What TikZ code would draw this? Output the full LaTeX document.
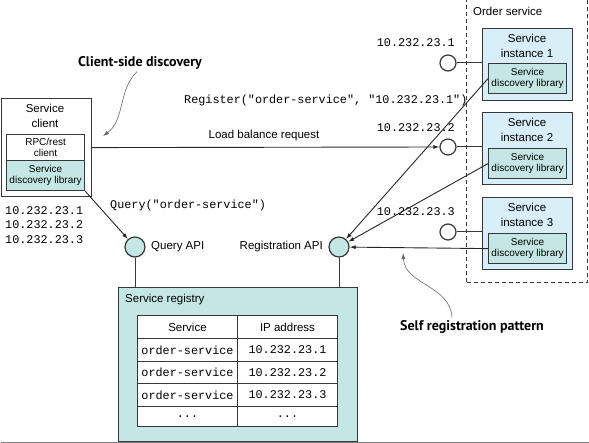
\documentclass[tikz,border=0pt]{standalone}
\usepackage{fontspec}
\setmainfont{Liberation Sans}
\setmonofont{Liberation Mono}
\newfontfamily\calloutfont{PT Sans}
\usetikzlibrary{arrows.meta}
\definecolor{teal0}{RGB}{196,230,228}
\definecolor{blue0}{RGB}{216,238,249}
\definecolor{edge}{RGB}{55,55,55}
\begin{document}
\begin{tikzpicture}[x=1pt,y=-1pt,
  box/.style={draw=edge, line width=1.2pt, inner sep=0pt, anchor=north west, align=center},
  lbl/.style={font=\fontsize{11.5}{14.5}\selectfont, align=center, inner sep=0pt},
  small/.style={font=\fontsize{10}{11.5}\selectfont},
  mono/.style={font=\ttfamily\fontsize{11.8}{14}\selectfont, inner sep=0pt},
  port/.style={circle, draw=edge, line width=1.2pt, fill=white, minimum size=16pt, inner sep=0pt},
  api/.style={circle, draw=edge, line width=1.2pt, fill=teal0, minimum size=20pt, inner sep=0pt},
  arr/.style={-{Latex[length=6pt,width=4pt]}, line width=0.9pt, draw=black!85},
  link/.style={line width=1pt, draw=edge},
  callout/.style={font=\calloutfont\bfseries\fontsize{14}{16}\selectfont, inner sep=0pt},
  curvy/.style={-{Latex[length=6pt,width=4pt]}, line width=0.6pt, draw=black!60},
  cell/.style={draw=edge, line width=1pt, fill=white, minimum width=100pt, anchor=north west, inner sep=0pt},
  head/.style={cell, font=\fontsize{11.5}{13}\selectfont},
  mcell/.style={cell, font=\ttfamily\fontsize{11.8}{13}\selectfont}
]
\useasboundingbox (0,0) rectangle (589,443);

% ---- order service group
\node[draw=edge, dashed, dash pattern=on 4pt off 3pt, line width=1pt, minimum width=121pt, minimum height=287pt, anchor=north west, inner sep=0pt] (order) at (466,-5) {};
\node[lbl, anchor=west] (orderlbl) at (473,11) {Order service};

% instances
\node[box, fill=blue0, minimum width=90pt, minimum height=72pt] (inst1) at (482,28) {};
\node[lbl] (inst1lbl) at (527,46) {Service\\instance 1};
\node[box, fill=teal0, minimum width=78pt, minimum height=30pt, small] (lib1) at (488,63) {Service\\discovery library};

\node[box, fill=blue0, minimum width=90pt, minimum height=72pt] (inst2) at (482,112) {};
\node[lbl] (inst2lbl) at (527,130) {Service\\instance 2};
\node[box, fill=teal0, minimum width=78pt, minimum height=30pt, small] (lib2) at (488,148) {Service\\discovery library};

\node[box, fill=blue0, minimum width=90pt, minimum height=72pt] (inst3) at (482,197) {};
\node[lbl] (inst3lbl) at (527,215) {Service\\instance 3};
\node[box, fill=teal0, minimum width=78pt, minimum height=30pt, small] (lib3) at (488,233) {Service\\discovery library};

% ports
\node[port] (port1) at (448,63) {};
\node[port] (port2) at (448,147) {};
\node[port] (port3) at (448,232) {};
\draw[link] (port1.east) -- (port1.east -| inst1.west);
\draw[link] (port2.east) -- (port2.east -| inst2.west);
\draw[link] (port3.east) -- (port3.east -| inst3.west);
\node[mono, anchor=east] (ip1) at (455,43) {10.232.23.1};
\node[mono, anchor=east] (ip2) at (455,128) {10.232.23.2};
\node[mono, anchor=east] (ip3) at (455,212) {10.232.23.3};

% ---- client
\node[box, fill=white, minimum width=90pt, minimum height=98pt] (client) at (0.7,98) {};
\node[lbl] (clientlbl) at (45,116) {Service\\client};
\node[box, fill=white, minimum width=78pt, minimum height=26pt, small] (rpc) at (6,134) {RPC/rest\\client};
\node[box, fill=teal0, minimum width=78pt, minimum height=30pt, small] (clib) at (6,160) {Service\\discovery library};

\node[mono, anchor=west] (cip1) at (5,211) {10.232.23.1};
\node[mono, anchor=west] (cip2) at (5,225) {10.232.23.2};
\node[mono, anchor=west] (cip3) at (5,240) {10.232.23.3};

% texts
\node[mono, anchor=west] (regtxt) at (184,100) {Register("order-service", "10.232.23.1")};
\node[lbl] (lbr) at (264,136) {Load balance request};
\node[mono, anchor=west] (qtxt) at (110,205) {Query("order-service")};

% ---- APIs
\node[api] (qapi) at (135,247) {};
\node[api] (rapi) at (339,247) {};
\node[lbl, anchor=west] (qapilbl) at (151,247) {Query API};
\node[lbl, anchor=east] (rapilbl) at (323,247) {Registration API};

% ---- registry
\node[box, fill=teal0, minimum width=239pt, minimum height=154pt] (reg) at (118,287) {};
\node[lbl, anchor=west] (reglbl) at (125,300) {Service registry};

\node[head, minimum height=23pt] (h1) at (137,315) {Service};
\node[head, minimum height=23pt] (h2) at (237,315) {IP address};
\node[mcell, minimum height=23pt] (r1a) at (137,338) {order-service};
\node[mcell, minimum height=23pt] (r1b) at (237,338) {10.232.23.1};
\node[mcell, minimum height=22pt] (r2a) at (137,361) {order-service};
\node[mcell, minimum height=22pt] (r2b) at (237,361) {10.232.23.2};
\node[mcell, minimum height=23pt] (r3a) at (137,383) {order-service};
\node[mcell, minimum height=23pt] (r3b) at (237,383) {10.232.23.3};
\node[mcell, minimum height=20pt] (r4a) at (137,406) {...};
\node[mcell, minimum height=20pt] (r4b) at (237,406) {...};

\draw[link] (qapi.south) -- (qapi.south |- reg.north);
\draw[link] (rapi.south) -- (rapi.south |- reg.north);

% ---- connectors
\draw[arr] (client.east) -- (port2.west);
\draw[arr] (clib.south east) -- (qapi);
\draw[arr] (lib1.west) -- (rapi);
\draw[arr] (lib2.west) -- (rapi);
\draw[arr] (lib3.west) -- (rapi);

% ---- callouts
\node[callout] (csd) at (140,63) {Client-side discovery};
\node[callout] (srp) at (472,327) {Self registration pattern};
\coordinate (csdtip) at (103,136);
\coordinate (srptip) at (403,253);
\draw[curvy] ([xshift=-3pt,yshift=-2pt]csd.south) .. controls (118,90) and (125,120) .. (csdtip);
\draw[curvy] ([xshift=-20pt,yshift=3pt]srp.north) .. controls (450,285) and (405,285) .. (srptip);

% bottom rule
\draw[gray, line width=1.5pt] (reg.south west -| order.east) ++(2,0.5) -- ++(-589,0);
\end{tikzpicture}
\end{document}
